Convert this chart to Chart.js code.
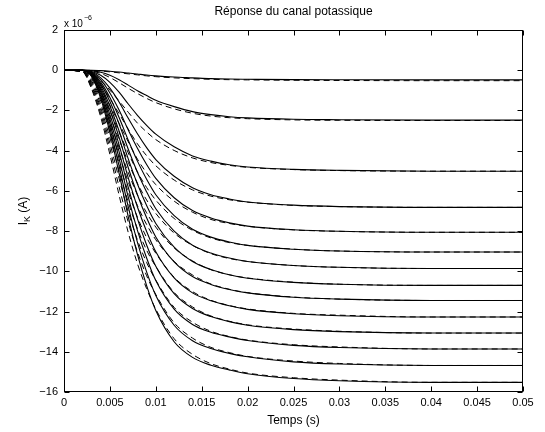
<!DOCTYPE html>
<html>
<head>
<meta charset="utf-8">
<script src="https://cdn.jsdelivr.net/npm/chart.js@4.4.1/dist/chart.umd.min.js"></script>
<style>
  html, body { margin: 0; padding: 0; background: #fff; }
  #wrap { width: 545px; height: 432px; }
</style>
</head>
<body>
<div id="wrap"><canvas id="chart" width="545" height="432"></canvas></div>
<script>
// temps (s)
const times = [0, 0.002, 0.003, 0.004, 0.005, 0.006, 0.007, 0.008, 0.009, 0.010,
  0.012, 0.014, 0.016, 0.018, 0.020, 0.025, 0.030, 0.040, 0.050];

const xTicks = [0, 0.005, 0.01, 0.015, 0.02, 0.025, 0.03, 0.035, 0.04, 0.045, 0.05];
const yTicks = [2, 0, -2, -4, -6, -8, -10, -12, -14, -16];

// courant mesure (trait plein), en 1e-6 A
const m1 = [0, 0, 0, -0.02, -0.05, -0.09, -0.14, -0.19, -0.24, -0.28, -0.34, -0.38, -0.42, -0.44, -0.45, -0.47, -0.475, -0.48, -0.48];
const m2 = [0, 0, -0.02, -0.10, -0.25, -0.47, -0.74, -1.02, -1.26, -1.49, -1.81, -2.06, -2.21, -2.31, -2.37, -2.44, -2.46, -2.48, -2.48];
const m3 = [0, 0, -0.06, -0.25, -0.60, -1.09, -1.68, -2.24, -2.74, -3.18, -3.81, -4.26, -4.52, -4.70, -4.81, -4.93, -4.98, -5.02, -5.02];
const m4 = [0, 0, -0.09, -0.38, -0.89, -1.58, -2.39, -3.16, -3.85, -4.44, -5.27, -5.84, -6.19, -6.40, -6.55, -6.71, -6.78, -6.82, -6.82];
const m5 = [0, 0, -0.11, -0.48, -1.13, -1.98, -2.97, -3.88, -4.69, -5.38, -6.34, -6.98, -7.35, -7.59, -7.75, -7.93, -8.01, -8.06, -8.06];
const m6 = [0, 0, -0.14, -0.59, -1.36, -2.35, -3.48, -4.52, -5.42, -6.19, -7.23, -7.91, -8.30, -8.54, -8.71, -8.90, -8.99, -9.04, -9.04];
const m7 = [0, 0, -0.16, -0.68, -1.56, -2.67, -3.93, -5.07, -6.05, -6.89, -8.00, -8.70, -9.09, -9.34, -9.51, -9.71, -9.80, -9.86, -9.86];
const m8 = [0, 0, -0.18, -0.78, -1.78, -3.02, -4.41, -5.66, -6.73, -7.62, -8.80, -9.51, -9.91, -10.17, -10.34, -10.55, -10.64, -10.70, -10.70];
const m9 = [0, 0, -0.19, -0.88, -1.98, -3.34, -4.85, -6.19, -7.34, -8.29, -9.53, -10.26, -10.65, -10.90, -11.07, -11.29, -11.38, -11.45, -11.45];
const m10 = [0, 0, -0.22, -0.98, -2.21, -3.71, -5.35, -6.80, -8.02, -9.03, -10.33, -11.07, -11.46, -11.71, -11.89, -12.11, -12.21, -12.27, -12.27];
const m11 = [0, 0, -0.25, -1.08, -2.43, -4.05, -5.83, -7.38, -8.69, -9.75, -11.11, -11.85, -12.25, -12.50, -12.68, -12.90, -13.00, -13.07, -13.07];
const m12 = [0, 0, -0.26, -1.19, -2.65, -4.39, -6.31, -7.96, -9.34, -10.46, -11.88, -12.64, -13.03, -13.26, -13.44, -13.68, -13.79, -13.86, -13.86];
const m13 = [0, 0, -0.29, -1.29, -2.88, -4.76, -6.80, -8.56, -10.03, -11.20, -12.68, -13.45, -13.84, -14.08, -14.25, -14.50, -14.61, -14.68, -14.68];
const m14 = [0, 0, -0.31, -1.40, -3.10, -5.12, -7.29, -9.16, -10.71, -11.95, -13.50, -14.28, -14.67, -14.90, -15.09, -15.33, -15.44, -15.52, -15.52];

// modele ajuste (tirets)
const f1 = [0, 0, -0.01, -0.04, -0.08, -0.13, -0.18, -0.23, -0.28, -0.32, -0.38, -0.42, -0.45, -0.47, -0.48, -0.50, -0.51, -0.52, -0.52];
const f2 = [0, 0, -0.04, -0.16, -0.36, -0.62, -0.90, -1.16, -1.40, -1.61, -1.92, -2.14, -2.28, -2.36, -2.41, -2.47, -2.49, -2.50, -2.50];
const f3 = [0, -0.03, -0.18, -0.51, -0.99, -1.53, -2.09, -2.63, -3.07, -3.45, -3.99, -4.36, -4.59, -4.73, -4.83, -4.94, -4.99, -5.02, -5.02];
const f4 = [0, -0.03, -0.27, -0.74, -1.41, -2.16, -2.93, -3.66, -4.25, -4.75, -5.46, -5.95, -6.26, -6.44, -6.56, -6.72, -6.78, -6.82, -6.82];
const f5 = [0, -0.04, -0.34, -0.92, -1.74, -2.64, -3.56, -4.42, -5.11, -5.69, -6.51, -7.06, -7.42, -7.62, -7.76, -7.94, -8.01, -8.06, -8.06];
const f6 = [0, -0.05, -0.41, -1.08, -2.03, -3.07, -4.11, -5.06, -5.83, -6.46, -7.37, -7.96, -8.34, -8.57, -8.71, -8.90, -8.99, -9.04, -9.04];
const f7 = [0, -0.05, -0.46, -1.23, -2.29, -3.45, -4.58, -5.62, -6.45, -7.12, -8.10, -8.71, -9.12, -9.36, -9.51, -9.71, -9.80, -9.86, -9.86];
const f8 = [0, -0.05, -0.54, -1.39, -2.56, -3.84, -5.09, -6.20, -7.09, -7.80, -8.84, -9.48, -9.92, -10.17, -10.33, -10.54, -10.64, -10.70, -10.70];
const f9 = [0, -0.06, -0.60, -1.53, -2.82, -4.21, -5.55, -6.73, -7.67, -8.43, -9.51, -10.18, -10.63, -10.89, -11.06, -11.28, -11.38, -11.45, -11.45];
const f10 = [0, -0.06, -0.66, -1.69, -3.09, -4.61, -6.06, -7.31, -8.32, -9.10, -10.30, -11.01, -11.44, -11.70, -11.87, -12.09, -12.18, -12.27, -12.27];
const f11 = [0, -0.07, -0.73, -1.86, -3.36, -5.01, -6.56, -7.88, -8.95, -9.76, -11.05, -11.77, -12.22, -12.48, -12.66, -12.87, -12.98, -13.07, -13.07];
const f12 = [0, -0.07, -0.79, -2.01, -3.63, -5.39, -7.04, -8.44, -9.56, -10.44, -11.79, -12.53, -12.98, -13.24, -13.42, -13.65, -13.76, -13.86, -13.86];
const f13 = [0, -0.07, -0.87, -2.17, -3.90, -5.80, -7.56, -9.03, -10.22, -11.15, -12.56, -13.32, -13.78, -14.04, -14.23, -14.46, -14.58, -14.68, -14.68];
const f14 = [0, -0.08, -0.93, -2.33, -4.19, -6.21, -8.07, -9.62, -10.86, -11.88, -13.35, -14.13, -14.59, -14.86, -15.06, -15.29, -15.41, -15.52, -15.52];

const mesures = [m1, m2, m3, m4, m5, m6, m7, m8, m9, m10, m11, m12, m13, m14];
const modeles = [f1, f2, f3, f4, f5, f6, f7, f8, f9, f10, f11, f12, f13, f14];

const FONT = "'Liberation Sans', Arial, Helvetica, sans-serif";

function toPoints(arr) {
  return arr.map((v, i) => ({ x: times[i], y: v }));
}

const datasets = [];
modeles.forEach((arr) => {
  datasets.push({
    data: toPoints(arr),
    borderColor: "#000",
    borderWidth: 1,
    borderDash: [6, 4],
    cubicInterpolationMode: "monotone",
    pointRadius: 0,
    fill: false,
  });
});
mesures.forEach((arr) => {
  datasets.push({
    data: toPoints(arr),
    borderColor: "#000",
    borderWidth: 1.1,
    cubicInterpolationMode: "monotone",
    pointRadius: 0,
    fill: false,
  });
});

// cadre, graduations interieures et textes facon matlab
const matlabFrame = {
  id: "matlabFrame",
  afterDraw(chart) {
    const { ctx, chartArea: a, scales } = chart;
    const xs = scales.x, ys = scales.y;
    const L = Math.round(a.left) + 0.5, R = Math.round(a.right) - 0.5;
    const T = Math.round(a.top) + 0.5, B = Math.round(a.bottom) - 0.5;
    ctx.save();
    ctx.strokeStyle = "#000";
    ctx.lineWidth = 1;
    ctx.strokeRect(L, T, R - L, B - T);
    ctx.beginPath();
    xTicks.forEach((v) => {
      const px = Math.round(xs.getPixelForValue(v)) + 0.5;
      ctx.moveTo(px, B); ctx.lineTo(px, B - 5);
      ctx.moveTo(px, T); ctx.lineTo(px, T + 5);
    });
    yTicks.forEach((v) => {
      const py = Math.round(ys.getPixelForValue(v)) + 0.5;
      ctx.moveTo(L, py); ctx.lineTo(L + 5, py);
      ctx.moveTo(R, py); ctx.lineTo(R - 5, py);
    });
    ctx.stroke();

    ctx.fillStyle = "#000";
    const cx = (a.left + a.right) / 2;
    ctx.font = "12px " + FONT;
    ctx.textAlign = "center";
    ctx.textBaseline = "middle";
    ctx.fillText("Réponse du canal potassique", cx, 12);
    ctx.fillText("Temps (s)", cx, 421);

    // multiplicateur
    ctx.textAlign = "left";
    ctx.textBaseline = "alphabetic";
    ctx.font = "10px " + FONT;
    ctx.fillText("x 10", a.left, 27);
    const w = ctx.measureText("x 10").width;
    ctx.font = "7px " + FONT;
    ctx.fillText("\u22126", a.left + w + 1, 20);

    // titre axe y avec indice
    ctx.translate(27, (a.top + a.bottom) / 2);
    ctx.rotate(-Math.PI / 2);
    ctx.font = "12px " + FONT;
    const wI = ctx.measureText("I").width;
    const wA = ctx.measureText(" (A)").width;
    ctx.font = "9px " + FONT;
    const wK = ctx.measureText("K").width;
    let u = -(wI + wK + wA) / 2;
    ctx.font = "12px " + FONT;
    ctx.fillText("I", u, 0);
    u += wI;
    ctx.font = "9px " + FONT;
    ctx.fillText("K", u, 3);
    u += wK;
    ctx.font = "12px " + FONT;
    ctx.fillText(" (A)", u, 0);
    ctx.restore();
  },
};

const ctx = document.getElementById("chart").getContext("2d");
new Chart(ctx, {
  type: "line",
  data: { datasets },
  options: {
    responsive: false,
    animation: false,
    devicePixelRatio: 1,
    layout: { padding: { left: 0, right: 22, top: 30, bottom: 0 } },
    plugins: {
      legend: { display: false },
      tooltip: { enabled: false },
      title: { display: false },
    },
    scales: {
      x: {
        type: "linear",
        min: 0,
        max: 0.05,
        afterBuildTicks: (s) => { s.ticks = xTicks.map((v) => ({ value: v })); },
        afterFit: (s) => { s.height = 40; },
        grid: { display: false, drawTicks: false },
        border: { display: false },
        ticks: {
          color: "#000",
          padding: 4,
          autoSkip: false,
          maxRotation: 0,
          font: { family: FONT, size: 11 },
          callback: (v) => (v === 0 ? "0" : String(+Number(v).toFixed(3))),
        },
      },
      y: {
        type: "linear",
        min: -16,
        max: 2,
        afterBuildTicks: (s) => { s.ticks = yTicks.map((v) => ({ value: v })); },
        afterFit: (s) => { s.width = 64; },
        grid: { display: false, drawTicks: false },
        border: { display: false },
        ticks: {
          color: "#000",
          padding: 6,
          autoSkip: false,
          font: { family: FONT, size: 11 },
          callback: (v) => (v < 0 ? "\u2212" + Math.abs(v) : String(v)),
        },
      },
    },
  },
  plugins: [matlabFrame],
});
</script>
</body>
</html>
